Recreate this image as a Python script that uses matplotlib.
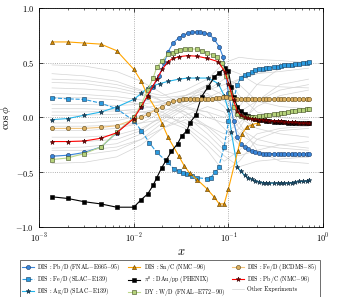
import matplotlib
matplotlib.use('Agg')
import matplotlib.pyplot as plt

plt.rcParams['font.family'] = 'serif'
plt.rcParams['font.serif'] = ['cmr10']
plt.rcParams['mathtext.fontset'] = 'cm'
plt.rcParams['axes.formatter.use_mathtext'] = True
plt.rcParams['axes.unicode_minus'] = True

# x positions shared by most of the curves
x_left = [0.00137, 0.002, 0.003, 0.0045, 0.0066, 0.01]
x_tail = [0.124, 0.135, 0.148, 0.161, 0.176, 0.192, 0.21, 0.23, 0.25, 0.27, 0.30,
          0.33, 0.36, 0.39, 0.43, 0.47, 0.51, 0.56, 0.61, 0.67, 0.71]

# DIS : Pb/D (FNAL-E665-95)
pbd_x = x_left + [0.012, 0.014, 0.016, 0.0185, 0.021, 0.023, 0.026, 0.030, 0.033, 0.037,
                  0.041, 0.046, 0.050, 0.055, 0.062, 0.070, 0.080, 0.088, 0.100, 0.113] + x_tail
pbd_y = [-0.355, -0.345, -0.32, -0.27, -0.14, 0.0,
         0.10, 0.19, 0.28, 0.38, 0.50, 0.60, 0.68, 0.73, 0.75, 0.77,
         0.78, 0.78, 0.78, 0.77, 0.76, 0.72, 0.645, 0.55, 0.22, -0.03,
         -0.18, -0.24, -0.27, -0.29, -0.31, -0.32, -0.325, -0.33, -0.33, -0.33, -0.33,
         -0.33, -0.33, -0.335, -0.335, -0.335, -0.335, -0.335, -0.335, -0.335, -0.335]

# DIS : Fe/D (SLAC-E139)
fes_x = x_left + [0.012, 0.0146, 0.0175, 0.0228, 0.0265, 0.030, 0.033, 0.0365, 0.041,
                  0.046, 0.059, 0.065, 0.072, 0.079, 0.090, 0.100] + x_tail
fes_y = [0.18, 0.17, 0.165, 0.13, 0.08, -0.03,
         -0.12, -0.23, -0.32, -0.41, -0.47, -0.49, -0.51, -0.52, -0.535,
         -0.55, -0.56, -0.55, -0.50, -0.45, -0.27, -0.035,
         0.30, 0.365, 0.385, 0.40, 0.415, 0.43, 0.44, 0.445, 0.45, 0.455, 0.46,
         0.465, 0.47, 0.475, 0.475, 0.48, 0.485, 0.49, 0.50, 0.50, 0.505]

# DIS : Ag/D (SLAC-E139)
agd_x = x_left + [0.012, 0.014, 0.016, 0.019, 0.023, 0.030, 0.037, 0.046, 0.061, 0.078,
                  0.090, 0.100, 0.107] + x_tail
agd_y = [-0.02, -0.01, 0.02, 0.05, 0.095, 0.165,
         0.22, 0.27, 0.29, 0.31, 0.33, 0.35, 0.36, 0.36, 0.36, 0.31,
         0.20, 0.065, -0.13,
         -0.455, -0.49, -0.53, -0.55, -0.565, -0.58, -0.59, -0.595, -0.60, -0.60, -0.60,
         -0.60, -0.60, -0.60, -0.60, -0.595, -0.59, -0.585, -0.585, -0.58, -0.575]

# DIS : Sn/C (NMC-96)
snc_x = x_left + [0.012, 0.014, 0.017, 0.020, 0.023, 0.030, 0.034, 0.039, 0.047, 0.059,
                  0.071, 0.080, 0.090, 0.100, 0.125, 0.139, 0.155, 0.178, 0.205]
snc_y = [0.69, 0.69, 0.68, 0.67, 0.61, 0.44,
         0.33, 0.20, 0.08, -0.06, -0.18, -0.355, -0.44, -0.51, -0.57, -0.65,
         -0.73, -0.79, -0.79, -0.65, -0.31, -0.15, -0.09, -0.065, -0.05]

# pi0 : DAu/pp (PHENIX)
pi0_x = x_left + [0.012, 0.014, 0.016, 0.0175, 0.0197, 0.022, 0.025, 0.029, 0.032, 0.0365,
                  0.039, 0.045, 0.052, 0.061, 0.071, 0.080, 0.092, 0.100, 0.107, 0.113] + x_tail
pi0_y = [-0.725, -0.74, -0.77, -0.79, -0.82, -0.82,
         -0.75, -0.70, -0.62, -0.55, -0.46, -0.39, -0.31, -0.24, -0.17, -0.12,
         -0.05, 0.02, 0.19, 0.28, 0.37, 0.41, 0.45, 0.42, 0.28, 0.19,
         0.10, 0.06, 0.035, 0.015, 0.0, -0.01, -0.02, -0.025, -0.03, -0.035, -0.04,
         -0.04, -0.045, -0.045, -0.05, -0.05, -0.05, -0.055, -0.055, -0.055, -0.055]

# DY : W/D (FNAL-E772-90)
dyw_x = x_left + [0.012, 0.014, 0.016, 0.0175, 0.020, 0.023, 0.026, 0.028, 0.031, 0.035,
                  0.039, 0.046, 0.052, 0.060, 0.068, 0.076, 0.085, 0.095, 0.105, 0.115] + x_tail
dyw_y = [-0.385, -0.37, -0.33, -0.27, -0.135, 0.0,
         0.12, 0.25, 0.36, 0.46, 0.52, 0.58, 0.59, 0.61, 0.62, 0.63,
         0.625, 0.625, 0.61, 0.59, 0.57, 0.55, 0.50, 0.38, 0.22, 0.10,
         0.03, 0.01, 0.0, 0.0, 0.0, 0.005, 0.01, 0.015, 0.02, 0.025, 0.03,
         0.035, 0.04, 0.045, 0.05, 0.055, 0.06, 0.065, 0.07, 0.075, 0.08]

# DIS : Fe/D (BCDMS-85)
feb_x = x_left + [0.012, 0.014, 0.017, 0.020, 0.023, 0.026, 0.030, 0.033, 0.036, 0.039,
                  0.043, 0.047, 0.051, 0.056, 0.061, 0.067, 0.073, 0.080, 0.087, 0.095,
                  0.104, 0.113] + x_tail
feb_y = [-0.10, -0.10, -0.10, -0.09, -0.075, -0.02,
         0.0, 0.03, 0.07, 0.10, 0.13, 0.15, 0.155, 0.165, 0.17, 0.17,
         0.17, 0.17, 0.17, 0.17, 0.17, 0.17, 0.175, 0.18, 0.185, 0.19,
         0.18, 0.17,
         0.165, 0.165, 0.165, 0.165, 0.165, 0.165, 0.165, 0.165, 0.165, 0.165, 0.165,
         0.165, 0.165, 0.165, 0.165, 0.165, 0.165, 0.165, 0.165, 0.165, 0.165]

# DIS : Pb/C (NMC-96)
pbc_x = x_left + [0.012, 0.014, 0.0175, 0.020, 0.023, 0.026, 0.030, 0.037, 0.046, 0.060,
                  0.078, 0.092, 0.100, 0.113] + x_tail
pbc_y = [-0.22, -0.22, -0.215, -0.19, -0.14, -0.01,
         0.10, 0.20, 0.35, 0.44, 0.51, 0.54, 0.555, 0.565, 0.56, 0.54,
         0.51, 0.415, 0.31, 0.155,
         0.06, 0.02, 0.005, -0.005, -0.01, -0.015, -0.02, -0.02, -0.025, -0.03, -0.03,
         -0.035, -0.035, -0.04, -0.04, -0.045, -0.045, -0.05, -0.05, -0.05, -0.05]

# other experiments (grey band of curves)
grey_x = [0.00137, 0.003, 0.0066, 0.012, 0.02, 0.035, 0.06, 0.09, 0.13, 0.2, 0.35, 0.7]
grey_curves = [
    [0.48, 0.47, 0.42, 0.33, 0.22, 0.10, 0.00, -0.05, 0.05, 0.15, 0.25, 0.30],
    [0.32, 0.31, 0.27, 0.22, 0.15, 0.05, -0.08, -0.15, -0.05, 0.10, 0.20, 0.25],
    [0.22, 0.21, 0.19, 0.16, 0.13, 0.10, 0.05, 0.00, 0.10, 0.30, 0.45, 0.50],
    [0.12, 0.12, 0.11, 0.12, 0.15, 0.20, 0.25, 0.30, 0.35, 0.40, 0.45, 0.52],
    [0.05, 0.05, 0.06, 0.08, 0.12, 0.18, 0.22, 0.10, -0.10, -0.20, -0.25, -0.28],
    [-0.05, -0.05, -0.03, 0.02, 0.10, 0.20, 0.28, 0.20, -0.05, -0.30, -0.40, -0.42],
    [-0.12, -0.12, -0.10, -0.05, 0.05, 0.15, 0.25, 0.35, 0.30, 0.15, 0.10, 0.08],
    [-0.18, -0.18, -0.16, -0.10, 0.00, 0.12, 0.20, 0.15, 0.00, -0.10, -0.15, -0.18],
    [-0.28, -0.27, -0.24, -0.15, -0.02, 0.10, 0.18, 0.25, 0.35, 0.40, 0.42, 0.45],
    [-0.35, -0.34, -0.30, -0.20, -0.05, 0.08, 0.05, -0.10, -0.25, -0.32, -0.35, -0.36],
    [-0.42, -0.41, -0.36, -0.25, -0.10, 0.02, 0.10, 0.05, -0.15, -0.25, -0.28, -0.30],
    [0.40, 0.38, 0.33, 0.25, 0.15, 0.02, -0.15, -0.30, -0.35, -0.30, -0.25, -0.22],
    [0.18, 0.18, 0.16, 0.12, 0.05, -0.08, -0.25, -0.40, -0.30, -0.15, -0.10, -0.08],
    [0.08, 0.08, 0.07, 0.05, 0.02, -0.05, -0.20, -0.35, -0.45, -0.40, -0.38, -0.36],
    [-0.08, -0.08, -0.07, -0.05, -0.02, -0.10, -0.30, -0.50, -0.40, -0.20, -0.12, -0.10],
    [0.27, 0.26, 0.24, 0.20, 0.18, 0.20, 0.30, 0.45, 0.40, 0.30, 0.28, 0.27],
    [-0.22, -0.22, -0.20, -0.12, 0.02, 0.15, 0.30, 0.40, 0.20, 0.05, 0.00, -0.02],
    [0.02, 0.02, 0.03, 0.05, 0.08, 0.05, -0.10, -0.25, -0.15, 0.00, 0.05, 0.08],
    [-0.30, -0.30, -0.27, -0.20, -0.10, -0.02, -0.08, -0.20, -0.10, 0.15, 0.30, 0.35],
    [0.35, 0.34, 0.30, 0.24, 0.20, 0.25, 0.35, 0.50, 0.55, 0.53, 0.52, 0.50],
]

fig = plt.figure(figsize=(3.49, 2.97), dpi=100)
ax = fig.add_axes([0.112, 0.236, 0.814, 0.737])

for i, gy in enumerate(grey_curves):
    ax.plot(grey_x, gy, color='#d4d4d4', lw=0.5, zorder=1,
            label='Other Experiments' if i == 0 else None)

ms = 3
mew = 0.4
l_pbd, = ax.plot(pbd_x, pbd_y, '-o', color='#3b86d9', lw=0.8, ms=ms, mfc='#3b86d9',
                 mec='#1a3a66', mew=mew, label='DIS : Pb/D (FNAL$-$E665$-$95)', zorder=3)
l_fes, = ax.plot(fes_x, fes_y, '--s', color='#2a9be0', lw=0.8, ms=ms, mfc='#2a9be0',
                 mec='#143a5a', mew=mew, label='DIS : Fe/D (SLAC$-$E139)', zorder=3)
l_agd, = ax.plot(agd_x, agd_y, '-*', color='#22b4ea', lw=0.8, ms=ms + 0.5, mfc='#1d4e6e',
                 mec='#0d2a3d', mew=mew, label='DIS : Ag/D (SLAC$-$E139)', zorder=3)
l_snc, = ax.plot(snc_x, snc_y, '-^', color='#ffa500', lw=0.8, ms=ms, mfc='#d98c00',
                 mec='#5a3a00', mew=mew, label='DIS : Sn/C (NMC$-$96)', zorder=3)
l_pi0, = ax.plot(pi0_x, pi0_y, '-s', color='black', lw=0.8, ms=ms, mfc='black',
                 mec='black', mew=mew, label=r'$\pi^0$ : DAu/pp (PHENIX)', zorder=3)
l_dyw, = ax.plot(dyw_x, dyw_y, '-s', color='#bcd88a', lw=0.8, ms=ms, mfc='#b5d27a',
                 mec='#3d4a1e', mew=mew, label='DY : W/D (FNAL$-$E772$-$90)', zorder=3)
l_feb, = ax.plot(feb_x, feb_y, '-o', color='#f0c27a', lw=0.8, ms=ms, mfc='#dcb060',
                 mec='#5a4414', mew=mew, label='DIS : Fe/D (BCDMS$-$85)', zorder=3)
l_pbc, = ax.plot(pbc_x, pbc_y, '-*', color='red', lw=0.8, ms=ms + 0.5, mfc='#8b0000',
                 mec='#3a0000', mew=mew, label='DIS : Pb/C (NMC$-$96)', zorder=4)

ax.set_xscale('log')
ax.set_xlim(1e-3, 1)
ax.set_ylim(-1.0, 1.0)
ax.set_yticks([-1.0, -0.5, 0.0, 0.5, 1.0])
ax.yaxis.set_major_formatter(matplotlib.ticker.FormatStrFormatter('$%.1f$'))
ax.grid(True, which='major', ls=':', color='#999999', lw=0.6)
ax.tick_params(which='both', direction='in', top=True, right=True, labelsize=6)
ax.tick_params(which='major', length=3, width=0.5)
ax.tick_params(which='minor', length=1.5, width=0.4)
for s in ax.spines.values():
    s.set_linewidth(0.6)

ax.set_xlabel('$x$', fontsize=9, labelpad=1)
ax.set_ylabel(r'$\cos\phi$', fontsize=8, labelpad=2)

handles = [l_pbd, l_fes, l_agd, l_snc, l_pi0, l_dyw, l_feb, l_pbc, ax.lines[0]]
labels = [h.get_label() for h in handles]
fig.legend(handles, labels, loc='upper left', bbox_to_anchor=(0.049, 0.135), ncol=3,
           fontsize=4.3, frameon=True, fancybox=False, edgecolor='black',
           handlelength=2.0, columnspacing=1.2, borderpad=0.3, labelspacing=0.2,
           handletextpad=0.6).get_frame().set_linewidth(0.5)

fig.savefig('out.png', dpi=100)
